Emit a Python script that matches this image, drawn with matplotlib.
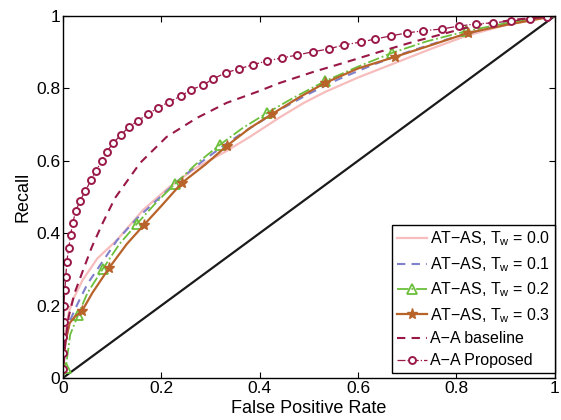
import matplotlib
matplotlib.use("Agg")
import matplotlib.pyplot as plt

plt.rcParams['font.family'] = ['Liberation Sans', 'DejaVu Sans']
plt.rcParams['mathtext.fontset'] = 'custom'
plt.rcParams['mathtext.rm'] = 'Liberation Sans'
plt.rcParams['mathtext.it'] = 'Liberation Sans'

# T_w = 0.0
x0 = [0, 0.004, 0.012, 0.020, 0.04, 0.07, 0.110, 0.163, 0.217, 0.27, 0.33, 0.38, 0.441, 0.49, 0.533, 0.6, 0.675, 0.75, 0.82, 0.9, 0.96, 1]
y0 = [0, 0.113, 0.18, 0.215, 0.27, 0.33, 0.381, 0.464, 0.528, 0.58, 0.625, 0.666, 0.72, 0.76, 0.79, 0.83, 0.87, 0.91, 0.945, 0.975, 0.99, 1]
# T_w = 0.1
x1 = [0, 0.005, 0.015, 0.03, 0.05, 0.08, 0.11, 0.15, 0.19, 0.23, 0.28, 0.33, 0.38, 0.44, 0.5, 0.56, 0.63, 0.7, 0.78, 0.86, 0.93, 1]
y1 = [0, 0.1, 0.16, 0.205, 0.26, 0.32, 0.38, 0.44, 0.49, 0.54, 0.595, 0.645, 0.69, 0.74, 0.785, 0.825, 0.865, 0.9, 0.935, 0.965, 0.985, 1]
# T_w = 0.2
x2 = [0, 0.006, 0.015, 0.031, 0.05, 0.081, 0.115, 0.150, 0.19, 0.228, 0.27, 0.319, 0.365, 0.415, 0.47, 0.533, 0.6, 0.669, 0.74, 0.82, 0.9, 1]
y2 = [0, 0.028, 0.12, 0.174, 0.235, 0.301, 0.37, 0.425, 0.485, 0.536, 0.59, 0.644, 0.69, 0.732, 0.775, 0.82, 0.86, 0.898, 0.93, 0.958, 0.98, 1]
mk2 = [1, 3, 5, 7, 9, 11, 13, 15, 17, 19]
# T_w = 0.3
x3 = [0, 0.003, 0.006, 0.014, 0.025, 0.039, 0.06, 0.094, 0.13, 0.165, 0.2, 0.242, 0.29, 0.333, 0.38, 0.425, 0.48, 0.533, 0.6, 0.675, 0.75, 0.823, 0.9, 0.96, 1]
y3 = [0.02, 0.07, 0.105, 0.152, 0.17, 0.185, 0.235, 0.304, 0.37, 0.423, 0.475, 0.539, 0.59, 0.641, 0.69, 0.729, 0.775, 0.815, 0.855, 0.887, 0.92, 0.953, 0.975, 0.99, 1]
mk3 = [5, 7, 9, 11, 13, 15, 17, 19, 21]
# A-A baseline
xb = [0, 0.005, 0.012, 0.024, 0.039, 0.059, 0.081, 0.106, 0.157, 0.211, 0.272, 0.333, 0.394, 0.441, 0.508, 0.577, 0.644, 0.711, 0.780, 0.841, 0.92, 1]
yb = [0, 0.10, 0.17, 0.235, 0.29, 0.362, 0.428, 0.497, 0.594, 0.666, 0.718, 0.760, 0.790, 0.815, 0.845, 0.873, 0.901, 0.928, 0.953, 0.975, 0.99, 1]
# A-A proposed
xp = [0, 0, 0, 0.002, 0.002, 0.004, 0.006, 0.008, 0.012, 0.016, 0.020, 0.026, 0.035, 0.046, 0.057, 0.067, 0.079, 0.089, 0.102, 0.118,
      0.134, 0.152, 0.173, 0.193, 0.215, 0.240, 0.260, 0.285, 0.305, 0.331, 0.358, 0.386, 0.415, 0.445, 0.476, 0.508,
      0.541, 0.571, 0.606, 0.634, 0.667, 0.699, 0.732, 0.770, 0.805, 0.839, 0.874, 0.911, 0.949, 0.985]
yp = [0.024, 0.069, 0.113, 0.155, 0.199, 0.242, 0.280, 0.320, 0.359, 0.396, 0.428, 0.460, 0.490, 0.517, 0.546, 0.572, 0.599, 0.624, 0.649, 0.671,
      0.693, 0.710, 0.729, 0.746, 0.762, 0.779, 0.796, 0.809, 0.826, 0.843, 0.854, 0.865, 0.876, 0.884, 0.892, 0.901,
      0.909, 0.920, 0.928, 0.936, 0.945, 0.953, 0.959, 0.964, 0.972, 0.978, 0.981, 0.986, 0.992, 0.997]

ticks = [0, 0.2, 0.4, 0.6, 0.8, 1]
tick_labels = ['0', '0.2', '0.4', '0.6', '0.8', '1']

fig = plt.figure(figsize=(5.61, 4.2), dpi=100)
ax = fig.add_axes([0.112, 0.1, 0.877, 0.862])

ax.plot([0, 1], [0, 1], color='#1a1a1a', lw=1.6)
ax.plot(x0, y0, color='#f7bcbc', lw=1.6, label='AT\u2212AS, $T_w$ = 0.0')
ax.plot(x1, y1, color='#7f7fcc', lw=1.5, ls=(0, (4, 3)), label='AT\u2212AS, $T_w$ = 0.1')
ax.plot(x2, y2, color='#6cbf3a', lw=1.3, ls='-.', marker='^', markevery=mk2, ms=7,
        mfc='none', mec='#6cbf3a', mew=1.3, label='AT\u2212AS, $T_w$ = 0.2')
ax.plot(x3, y3, color='#b8632a', lw=1.6, marker='*', markevery=mk3, ms=8,
        mfc='#b8632a', mec='#b8632a', label='AT\u2212AS, $T_w$ = 0.3')
ax.plot(xb, yb, color='#991848', lw=1.5, ls=(0, (4, 3)), label='A\u2212A baseline')
ax.plot(xp, yp, color='#991848', lw=0.9, ls='-.', marker='o', ms=5, mfc='white',
        mec='#991848', mew=1.4, label='A\u2212A Proposed')

ax.set_xlim(0, 1)
ax.set_ylim(0, 1)
ax.set_xticks(ticks)
ax.set_xticklabels(tick_labels)
ax.set_yticks(ticks)
ax.set_yticklabels(tick_labels)
ax.tick_params(direction='in', top=True, right=True, labelsize=12.5, length=4, pad=2)
ax.set_xlabel('False Positive Rate', fontsize=13, labelpad=3)
ax.set_ylabel('Recall', fontsize=13, labelpad=3)
for s in ax.spines.values():
    s.set_linewidth(1.0)

leg = ax.legend(loc='lower right', bbox_to_anchor=(1.0, 0.014), borderaxespad=0,
                fontsize=11.5, fancybox=False, edgecolor='black', framealpha=1,
                handlelength=1.9, handletextpad=0.15, labelspacing=0.42, borderpad=0.3)
leg.get_frame().set_linewidth(1.0)

fig.savefig('out.png', dpi=100)
